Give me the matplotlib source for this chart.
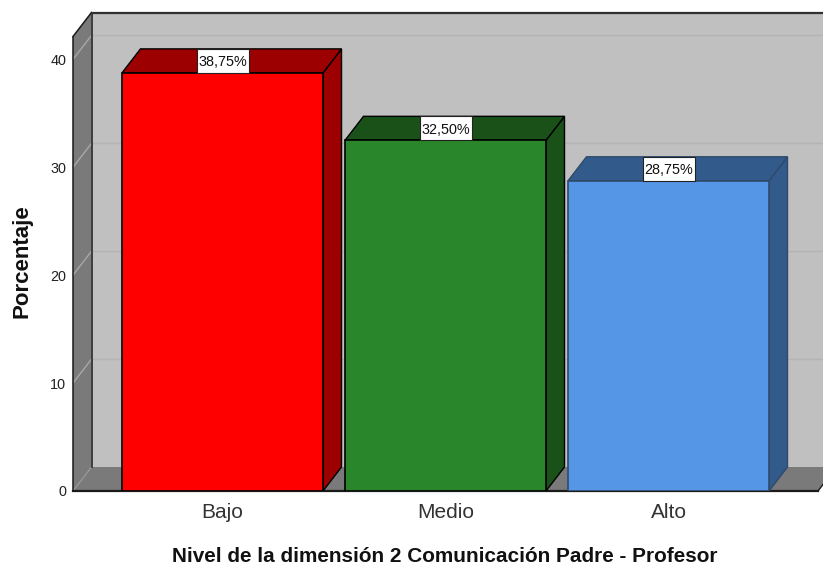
import matplotlib
matplotlib.use("Agg")
import matplotlib.pyplot as plt
from matplotlib.patches import Polygon, Rectangle

categories = ["Bajo", "Medio", "Alto"]
percentages = [38.75, 32.50, 28.75]
value_labels = ["38,75%", "32,50%", "28,75%"]
yticks = [0, 10, 20, 30, 40]
front_colors = ["#FF0000", "#2A862A", "#5596E6"]
side_colors = ["#9C0000", "#195119", "#325A8A"]
edge_colors = ["#000000", "#000000", "#2E4A6B"]
xlabel_text = "Nivel de la dimensión 2 Comunicación Padre - Profesor"
ylabel_text = "Porcentaje"

W, H = 823, 565
plt.rcParams["font.family"] = ["Liberation Sans", "DejaVu Sans"]
fig = plt.figure(figsize=(W / 100, H / 100), dpi=100, facecolor="white")

# pixel layout
px_left, px_right, px_top, px_zero = 73, 823, 13.5, 491
ax = fig.add_axes([px_left / W, 1 - px_zero / H, (px_right - px_left) / W, (px_zero - px_top) / H])
px_per_x = 223.0
px_per_y = 10.79
x0_px = 222.5
ax.set_xlim((px_left - x0_px) / px_per_x, (px_right - x0_px) / px_per_x)
ax.set_ylim(0, (px_zero - px_top) / px_per_y)
ddx = 18.5 / px_per_x
ddy = 24 / px_per_y
bar_w = 201 / px_per_x
box_w = 52 / px_per_x
xl = (px_left - x0_px) / px_per_x
xr = (818 - x0_px) / px_per_x
ytop_front = (px_zero - 36.5) / px_per_y
ytop_back = ytop_front + ddy

ax.set_facecolor("none")
for s in ax.spines.values():
    s.set_visible(False)

WALL = "#C0C0C0"
DARK = "#7A7A7A"
LINE = "#1A1A1A"

# back wall
ax.add_patch(Rectangle((xl + ddx, ddy), xr - xl + 0.2, ytop_back - ddy, fc=WALL, ec="none", zorder=1))
# floor
ax.add_patch(Polygon([(xl, 0), (xr, 0), (xr + ddx, ddy), (xl + ddx, ddy)], fc=DARK, ec="none", zorder=1.2))
# left side wall
ax.add_patch(Polygon([(xl, 0), (xl + ddx, ddy), (xl + ddx, ytop_back), (xl, ytop_front)], fc=DARK, ec="none", zorder=1.3))
# gridlines
for t in yticks[1:]:
    ax.plot([xl, xl + ddx], [t, t + ddy], color="#A8A8A8", lw=1, zorder=1.4, clip_on=False)
    ax.plot([xl + ddx, xr + 1], [t + ddy, t + ddy], color="#B4B4B4", lw=1, zorder=1.4)
ax.plot([xl, xl + ddx], [0, ddy], color="#9A9A9A", lw=0.8, zorder=1.4)
# frame lines
ax.plot([xl + ddx, xl + ddx], [ddy, ytop_back], color=LINE, lw=1.1, zorder=1.5)
ax.plot([xl, xl], [0, ytop_front], color=LINE, lw=1.1, zorder=1.5, clip_on=False)
ax.plot([xl, xl + ddx], [ytop_front, ytop_back], color=LINE, lw=1.1, zorder=1.5, clip_on=False)
ax.plot([xl + ddx, xr + 1], [ytop_back, ytop_back], color="#303030", lw=1.6, zorder=1.5, clip_on=False)
ax.plot([xl, xr], [0, 0], color=LINE, lw=1.6, zorder=1.5, clip_on=False)
ax.plot([xr, xr + ddx], [0, ddy], color=LINE, lw=1.0, zorder=1.5)

# bars
positions = list(range(len(categories)))
for i, (v, fc, sc, ec) in enumerate(zip(percentages, front_colors, side_colors, edge_colors)):
    left = i - bar_w / 2
    right = i + bar_w / 2
    ax.add_patch(Polygon([(right, 0), (right + ddx, ddy), (right + ddx, v + ddy), (right, v)],
                         fc=sc, ec=ec, lw=1, zorder=2 + i, joinstyle="miter"))
    ax.add_patch(Polygon([(left, v), (right, v), (right + ddx, v + ddy), (left + ddx, v + ddy)],
                         fc=sc, ec=ec, lw=1, zorder=2 + i, joinstyle="miter"))
    ax.bar(i, v, width=bar_w, color=fc, edgecolor=ec, linewidth=1.2, zorder=2.1 + i)
    ax.add_patch(Rectangle((i - box_w / 2, v), box_w, ddy, fc="white", ec="#222222", lw=0.8, zorder=6))
    ax.text(i, v + ddy / 2, value_labels[i], ha="center", va="center_baseline",
            fontsize=10.4, color="#111111", zorder=7)

# axes ticks and labels
ax.set_xticks(positions)
ax.set_xticklabels(categories, fontsize=15, color="#333333")
ax.set_yticks(yticks)
ax.set_yticklabels([str(t) for t in yticks], fontsize=10.4, color="#222222")
ax.tick_params(axis="both", length=0)
ax.tick_params(axis="x", pad=9)
ax.tick_params(axis="y", pad=5)
fig.text(445 / W, 1 - 557 / H, xlabel_text, ha="center", va="center", fontsize=14.95,
         fontweight="bold", color="#111111")
fig.text(22 / W, 1 - 261.5 / H, ylabel_text, ha="center", va="center", rotation=90,
         fontsize=16, fontweight="bold", color="#111111")

fig.savefig("out.png", dpi=100)
